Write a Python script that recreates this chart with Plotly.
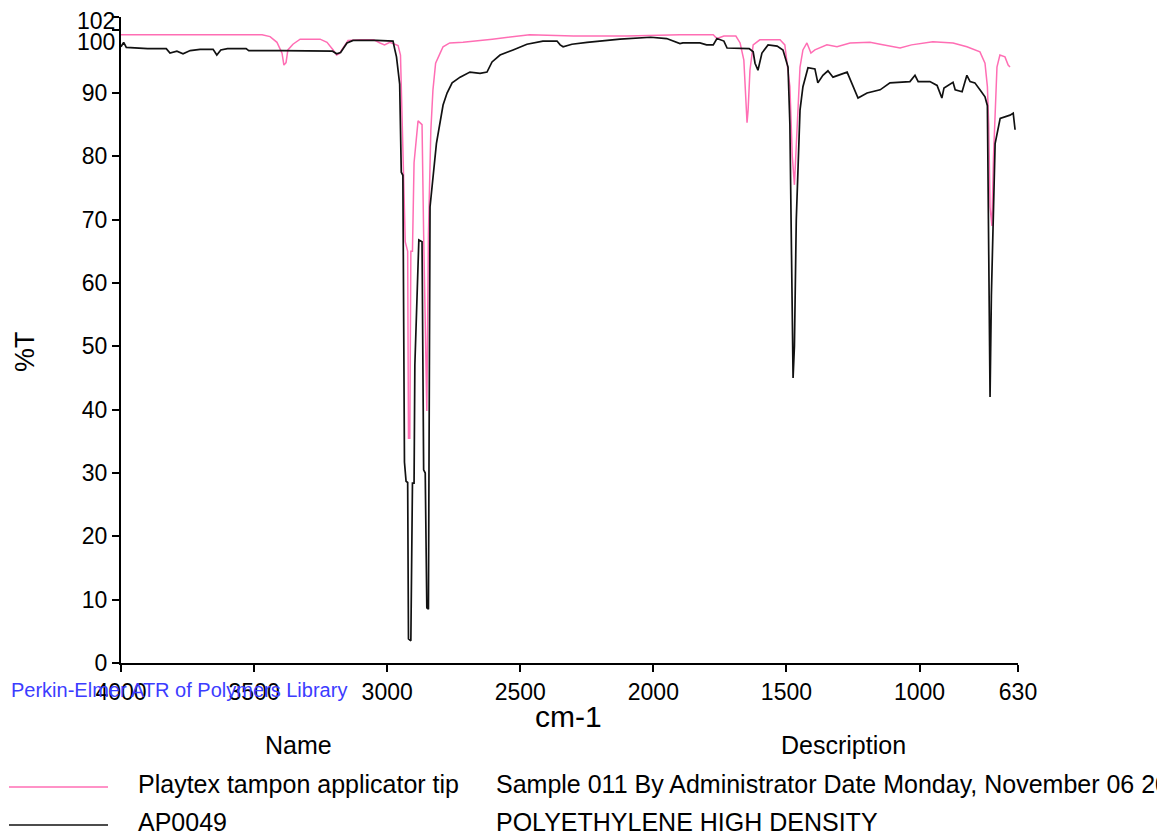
import plotly.graph_objects as go

# ---------------- data ----------------
# Sample: Playtex tampon applicator tip (pink)
wn_sample = [4000, 3470, 3440, 3414, 3395, 3388, 3380, 3373, 3354, 3327, 3252, 3226, 3203, 3190,
             3180, 3165, 3147, 3100, 3050, 3027, 3010, 2990, 2977, 2959, 2950, 2944, 2932, 2923,
             2920, 2915, 2911, 2905, 2899, 2884, 2869, 2863, 2851, 2845, 2836, 2828, 2818, 2801,
             2790, 2765, 2715, 2605, 2465, 2300, 2100, 1900, 1775, 1761, 1735, 1690, 1674, 1660,
             1648, 1644, 1637, 1625, 1600, 1524, 1506, 1487, 1478, 1470, 1463, 1449, 1438, 1423,
             1408, 1393, 1348, 1310, 1261, 1186, 1148, 1073, 1030, 950, 874, 822, 773, 754, 745,
             740, 735, 728, 722, 716, 709, 698, 679, 667, 660]
t_sample = [99.2, 99.2, 98.9, 98.0, 96.3, 94.4, 94.8, 96.8, 97.7, 98.5, 98.5, 98.0, 96.8, 96.0,
            96.2, 97.1, 98.3, 98.4, 98.4, 97.9, 97.6, 98.0, 97.8, 97.5, 96.0, 86.5, 66.5, 65.0,
            35.5, 35.5, 65.0, 65.0, 79.0, 85.6, 85.0, 67.7, 39.8, 67.7, 84.0, 90.5, 94.7, 96.3,
            97.3, 97.9, 98.0, 98.5, 99.2, 99.0, 99.0, 99.2, 99.2, 98.6, 99.0, 99.0, 97.9, 95.2,
            85.3, 87.3, 93.6, 97.6, 98.4, 98.4, 97.6, 91.0, 80.0, 75.5, 82.0, 94.1, 96.8, 97.9,
            96.3, 96.8, 97.6, 97.3, 97.9, 98.0, 97.7, 97.1, 97.6, 98.1, 97.9, 97.3, 96.5, 94.7, 91.0,
            85.0, 72.0, 69.0, 80.0, 88.0, 94.1, 96.0, 95.7, 94.4, 94.1]

# Reference: AP0049 polyethylene high density (black)
wn_ref = [4000, 3990, 3980, 3900, 3830, 3816, 3790, 3767, 3740, 3703, 3654, 3640, 3625, 3600,
          3530, 3520, 3400, 3300, 3205, 3190, 3175, 3151, 3128, 3040, 3000, 2978, 2971, 2965,
          2953, 2947, 2941, 2935, 2929, 2923, 2920, 2911, 2905, 2899, 2896, 2881, 2869, 2863,
          2857, 2851, 2845, 2843, 2839, 2815, 2801, 2790, 2775, 2756, 2726, 2689, 2651, 2625,
          2606, 2576, 2527, 2475, 2415, 2362, 2350, 2339, 2306, 2249, 2125, 2010, 1950, 1900,
          1889, 1825, 1800, 1775, 1761, 1735, 1723, 1640, 1625, 1618, 1607, 1592, 1569, 1535,
          1513, 1494, 1487, 1480, 1475, 1470, 1463, 1449, 1438, 1419, 1393, 1382, 1363, 1344,
          1325, 1272, 1250, 1231, 1197, 1148, 1111, 1036, 1017, 1005, 961, 934, 916, 908, 874,
          866, 840, 822, 810, 792, 773, 754, 745, 740, 735, 730, 722, 716, 697, 660, 648, 641]
t_ref = [97.3, 98.0, 97.2, 97.0, 97.0, 96.3, 96.6, 96.2, 96.7, 96.9, 96.9, 96.0, 96.8, 97.0,
         97.0, 96.7, 96.7, 96.7, 96.6, 96.2, 96.4, 97.9, 98.3, 98.3, 98.3, 98.2, 96.8, 95.7,
         91.4, 77.5, 77.0, 31.7, 28.7, 28.5, 3.8, 3.5, 28.4, 28.4, 47.0, 66.8, 66.5, 30.5,
         30.0, 8.7, 8.5, 30.0, 72.0, 82.0, 85.3, 88.1, 90.0, 91.6, 92.5, 93.3, 93.1, 93.3,
         94.9, 96.0, 96.8, 97.7, 98.2, 98.2, 97.6, 97.3, 97.7, 98.0, 98.5, 98.8, 98.6, 97.8,
         97.9, 97.9, 97.6, 97.6, 98.6, 98.2, 97.1, 97.0, 96.5, 94.7, 93.6, 96.3, 97.6, 97.4,
         96.8, 94.1, 85.0, 60.0, 45.0, 50.0, 70.0, 87.3, 91.0, 94.0, 93.8, 91.6, 92.8, 93.5,
         92.5, 93.3, 91.2, 89.2, 90.0, 90.5, 91.6, 91.8, 92.8, 91.8, 91.8, 91.2, 89.2, 90.8, 91.7,
         90.5, 90.2, 92.8, 91.8, 91.6, 90.5, 89.4, 88.0, 57.0, 42.0, 58.0, 75.0, 82.0, 86.0, 86.5,
         86.8, 84.2]

x_ticks = [4000, 3500, 3000, 2500, 2000, 1500, 1000, 630]
y_ticks = [0, 10, 20, 30, 40, 50, 60, 70, 80, 90, 100, 102]

sample_name = "Playtex tampon applicator tip"
sample_desc = "Sample 011 By Administrator Date Monday, November 06 2006"
ref_name = "AP0049"
ref_desc = "POLYETHYLENE HIGH DENSITY"

# ---------------- layout ----------------
PAGE_W, PAGE_H = 1165, 837
OFF = 8                       # default body margin of the html page
L, R, T, B = 121, 1018, 17, 663   # plot area in page pixels
W, H = PAGE_W - OFF, PAGE_H - OFF
PINK = "#ff6eb4"
FONT = "Liberation Sans, Arial, sans-serif"
TICK_SIZE = 23
LEG_SIZE = 25


def px(x):
    return (x - L) / (R - L)


def py(y):
    return (B - y) / (B - T)


fig = go.Figure()
fig.add_trace(go.Scatter(x=wn_sample, y=t_sample, mode="lines",
                         line=dict(color=PINK, width=1.5), name=sample_name))
fig.add_trace(go.Scatter(x=wn_ref, y=t_ref, mode="lines",
                         line=dict(color="#111111", width=1.7), name=ref_name))

fig.update_layout(
    width=W, height=H,
    margin=dict(l=L - OFF, r=W - (R - OFF), t=T - OFF, b=H - (B - OFF)),
    plot_bgcolor="white", paper_bgcolor="white",
    showlegend=False,
    font=dict(family=FONT, color="black"),
)
fig.update_xaxes(
    range=[4000, 630], tickvals=x_ticks, ticktext=[str(v) for v in x_ticks],
    showline=True, linecolor="black", linewidth=2, ticks="outside", ticklen=7,
    tickwidth=2, tickcolor="black", showgrid=False, zeroline=False,
    tickfont=dict(family=FONT, size=TICK_SIZE, color="black"),
)
fig.update_yaxes(
    range=[0, 102], tickvals=y_ticks,
    ticktext=[str(v) if v < 100 else "" for v in y_ticks],
    showline=True, linecolor="black", linewidth=2, ticks="outside", ticklen=7,
    tickwidth=2, tickcolor="black", showgrid=False, zeroline=False,
    tickfont=dict(family=FONT, size=TICK_SIZE, color="black"),
)

ann = []
# the crowded top y labels
ann.append(dict(x=px(117), y=py(21), text="102", showarrow=False, xanchor="right",
                yanchor="middle", font=dict(size=TICK_SIZE)))
ann.append(dict(x=px(117), y=py(42), text="100", showarrow=False, xanchor="right",
                yanchor="middle", font=dict(size=TICK_SIZE)))
# axis titles
ann.append(dict(x=px(568), y=py(716), text="cm-1", showarrow=False, xanchor="center",
                yanchor="middle", font=dict(size=30)))
ann.append(dict(x=px(25), y=py(352), text="%T", showarrow=False, textangle=-90,
                xanchor="center", yanchor="middle", font=dict(size=27)))
# library caption
ann.append(dict(x=px(9), y=py(690), text="Perkin-Elmer ATR of Polymers Library", showarrow=False,
                xanchor="left", yanchor="middle", font=dict(size=20, color="#3c3cff")))
# legend table
ann.append(dict(x=px(298), y=py(745), text="Name", showarrow=False, xanchor="center",
                yanchor="middle", font=dict(size=LEG_SIZE)))
ann.append(dict(x=px(843), y=py(745), text="Description", showarrow=False, xanchor="center",
                yanchor="middle", font=dict(size=LEG_SIZE)))
ann.append(dict(x=px(136), y=py(784), text=sample_name, showarrow=False, xanchor="left",
                yanchor="middle", font=dict(size=LEG_SIZE)))
ann.append(dict(x=px(494), y=py(784), text=sample_desc, showarrow=False, xanchor="left",
                yanchor="middle", font=dict(size=LEG_SIZE)))
ann.append(dict(x=px(136), y=py(822), text=ref_name, showarrow=False, xanchor="left",
                yanchor="middle", font=dict(size=LEG_SIZE)))
ann.append(dict(x=px(494), y=py(822), text=ref_desc, showarrow=False, xanchor="left",
                yanchor="middle", font=dict(size=LEG_SIZE)))
for a in ann:
    a["xref"] = "paper"
    a["yref"] = "paper"
fig.update_layout(annotations=ann)

fig.add_shape(type="line", xref="paper", yref="paper", x0=px(9), x1=px(108),
              y0=py(787), y1=py(787), line=dict(color=PINK, width=1.5))
fig.add_shape(type="line", xref="paper", yref="paper", x0=px(9), x1=px(108),
              y0=py(825), y1=py(825), line=dict(color="#111111", width=1.7))

fig.write_html("out.html")
